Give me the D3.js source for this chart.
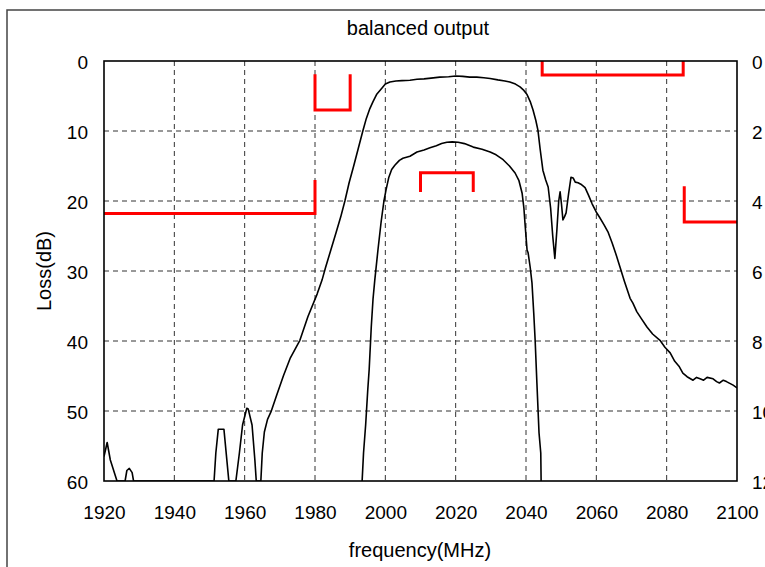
<!DOCTYPE html>
<html>
<head>
<meta charset="utf-8">
<script src="https://cdn.jsdelivr.net/npm/d3@7"></script>
<style>
  html, body { margin: 0; padding: 0; background: #fff; overflow: hidden; }
  svg { display: block; font-family: "Liberation Sans", Arial, sans-serif; }
</style>
</head>
<body>
<svg id="chart" width="765" height="567"></svg>
<script>
/* axis ticks */
const freqTicks = [1920, 1940, 1960, 1980, 2000, 2020, 2040, 2060, 2080, 2100];
const lossTicks = [0, 10, 20, 30, 40, 50, 60];
const rightTicks = [0, 2, 4, 6, 8, 10, 12];

/* wide (balanced) response: [MHz, dB] */
const curveWide = [
  [1920, 56.5], [1920.9, 54.5], [1921.8, 57], [1923.7, 60], [1926, 60], [1926.5, 58.5],
  [1927.2, 58.2], [1928, 58.8], [1928.4, 60], [1951.3, 60], [1951.8, 56], [1952.5, 52.6],
  [1954.1, 52.6], [1955.5, 60], [1957.5, 60], [1958.5, 56], [1959.4, 52], [1960.6, 49.6],
  [1961.0, 49.7], [1962.1, 52], [1962.9, 57], [1963.3, 60], [1964.6, 60], [1965.0, 56],
  [1965.6, 53], [1966.5, 51.2], [1967.5, 50.1], [1969, 47.9], [1971, 45], [1973, 42.4],
  [1975.7, 39.9], [1978, 36.5], [1980.6, 33.3], [1982, 31.3], [1983, 29.5], [1984.5, 27],
  [1986, 24.5], [1987.3, 22.3], [1988.5, 20], [1989.7, 17.4], [1991, 15], [1992.3, 12.5],
  [1993.6, 10], [1994.6, 8.2], [1995.6, 6.8], [1996.5, 5.8], [1997.5, 4.8], [1999, 3.9],
  [2000, 3.3], [2001.3, 3.0], [2003, 2.85], [2004.7, 2.8], [2007, 2.75], [2009, 2.6],
  [2011, 2.55], [2013, 2.45], [2015.5, 2.3], [2018, 2.25], [2020, 2.15], [2022, 2.2],
  [2024, 2.3], [2026, 2.3], [2028, 2.4], [2029.8, 2.5], [2032, 2.7], [2034, 2.85],
  [2035.4, 3.0], [2037, 3.3], [2038.3, 3.7], [2039.4, 4.2], [2040.3, 4.8], [2041.2, 5.8],
  [2042, 7], [2042.8, 8.5], [2043.4, 9.9], [2044, 12.5], [2044.8, 15.6], [2045.6, 17],
  [2046.3, 18], [2047, 21], [2047.6, 25], [2048.2, 28.2], [2048.8, 24], [2049.3, 20],
  [2049.7, 18.7], [2050.1, 20.5], [2050.5, 22.7], [2051.0, 22.2], [2051.4, 21.7], [2052.1, 19],
  [2052.8, 16.6], [2053.4, 16.7], [2054.0, 17.3], [2054.8, 17.4], [2055.6, 17.6], [2056.8, 18.1],
  [2057.8, 19.2], [2058.8, 20.4], [2060, 21.6], [2061, 22.4], [2062.2, 23.4], [2063.3, 24.4],
  [2064.5, 26], [2065.7, 27.8], [2066.7, 29.4], [2068, 31.5], [2069.6, 33.9], [2070.4, 34.6],
  [2071.5, 35.8], [2072.8, 36.8], [2074.4, 38], [2076, 39], [2078.1, 39.9], [2079.5, 40.9],
  [2081, 41.7], [2082.3, 42.9], [2083.5, 43.6], [2084.6, 44.6], [2085.8, 45.1], [2087.5, 45.6],
  [2088.5, 45.2], [2089.5, 45.4], [2090.5, 45.6], [2091.5, 45.2], [2093.2, 45.4], [2094.2, 45.8],
  [2095, 46], [2096.1, 45.6], [2097, 45.8], [2098.9, 46.3], [2100, 46.7]
];

/* narrow response: [MHz, dB] */
const curveNarrow = [
  [1993.4, 60], [1993.8, 56], [1994.4, 52], [1995.0, 47], [1995.4, 44.1], [1996.0, 38],
  [1996.5, 34], [1997, 31.3], [1997.9, 27], [1998.8, 23], [1999.6, 20], [2000.2, 18.4],
  [2001, 16.6], [2001.8, 15.5], [2002.7, 14.9], [2004, 14.2], [2005, 13.9], [2007, 13.6],
  [2009, 13.0], [2011, 12.7], [2012.7, 12.4], [2014.5, 12.1], [2016, 11.8], [2017.5, 11.6],
  [2019, 11.55], [2020.7, 11.6], [2022.5, 11.8], [2025, 12.3], [2027.5, 12.6], [2029.8, 13],
  [2031.5, 13.4], [2033.5, 14.1], [2035.3, 15], [2036.9, 16], [2038, 17.1], [2038.9, 18.9],
  [2039.4, 21], [2039.7, 23.1], [2040.3, 27], [2040.6, 27.4], [2041.2, 29.5], [2041.7, 31.7],
  [2042.2, 36], [2042.6, 39.9], [2043.1, 46], [2043.7, 53.1], [2044.2, 56], [2044.3, 60]
];

/* red spec masks: [MHz, dB] */
const maskLowReject = [[1920, 21.8], [1980, 21.8], [1980, 17]];
const maskLowPass = [[1980, 1.9], [1980, 7], [1990, 7], [1990, 1.9]];
const maskMid = [[2010, 18.7], [2010, 15.95], [2025, 15.95], [2025, 18.7]];
const maskHighPass = [[2044.6, 0], [2044.6, 2], [2084.7, 2], [2084.7, 0]];
const maskHighReject = [[2085, 17.9], [2085, 23], [2100, 23]];

const svg = d3.select("#chart");
const L = 104, R = 737, T = 61, B = 481;
const x = d3.scaleLinear().domain([1920, 2100]).range([L, R]);
const y = d3.scaleLinear().domain([0, 60]).range([T, B]);
const yR = d3.scaleLinear().domain([0, 12]).range([T, B]);

// 바깥 테두리 (잘려 있음)
svg.append("rect").attr("x", 7).attr("y", 10).attr("width", 820).attr("height", 620)
  .attr("fill", "none").attr("stroke", "#444").attr("stroke-width", 1.5);

svg.append("defs").append("clipPath").attr("id", "plot")
  .append("rect").attr("x", L).attr("y", T).attr("width", R - L).attr("height", B - T);

// 격자
const grid = svg.append("g").attr("stroke", "#333").attr("stroke-width", 1).attr("stroke-dasharray", "5,4");
grid.selectAll("line.v").data(freqTicks.slice(1, -1)).join("line")
  .attr("x1", (d) => x(d)).attr("x2", (d) => x(d)).attr("y1", T).attr("y2", B);
grid.selectAll("line.h").data(lossTicks.slice(1, -1)).join("line")
  .attr("x1", L).attr("x2", R).attr("y1", (d) => y(d)).attr("y2", (d) => y(d));

const font = (g, size) => g.attr("font-size", size).attr("font-family", "Liberation Sans, Arial, sans-serif");

const ax = svg.append("g").attr("transform", `translate(0,${B})`)
  .call(d3.axisBottom(x).tickValues(freqTicks).tickSize(0).tickPadding(25).tickFormat(d3.format("d")));
const ay = svg.append("g").attr("transform", `translate(${L},0)`)
  .call(d3.axisLeft(y).tickValues(lossTicks).tickSize(0).tickPadding(16));
const ar = svg.append("g").attr("transform", `translate(${R},0)`)
  .call(d3.axisRight(yR).tickValues(rightTicks).tickSize(0).tickPadding(15));
[ax, ay, ar].forEach((g) => {
  g.select(".domain").remove();
  font(g, 19);
  g.selectAll("text").attr("fill", "#000");
});
ay.selectAll("text").attr("dy", "0.4em");
ar.selectAll("text").attr("dy", "0.4em");

// 곡선
const line = d3.line().x((d) => x(d[0])).y((d) => y(d[1]));
const curves = svg.append("g").attr("clip-path", "url(#plot)").attr("fill", "none");
[curveWide, curveNarrow].forEach((c) =>
  curves.append("path").datum(c).attr("d", line)
    .attr("stroke", "#000").attr("stroke-width", 1.6).attr("stroke-linejoin", "round"));

[maskLowReject, maskLowPass, maskMid, maskHighPass, maskHighReject].forEach((m) =>
  svg.append("path").datum(m).attr("d", line).attr("fill", "none")
    .attr("stroke", "#ff0000").attr("stroke-width", 3));

// 플롯 테두리
svg.append("rect").attr("x", L).attr("y", T).attr("width", R - L).attr("height", B - T)
  .attr("fill", "none").attr("stroke", "#000").attr("stroke-width", 1.6);

// 제목
svg.append("text").attr("x", 418).attr("y", 35).attr("text-anchor", "middle")
  .attr("font-size", 20).text("balanced output");
svg.append("text").attr("x", 420).attr("y", 557).attr("text-anchor", "middle")
  .attr("font-size", 20).text("frequency(MHz)");
svg.append("text").attr("transform", `translate(51,${(T + B) / 2}) rotate(-90)`)
  .attr("text-anchor", "middle").attr("font-size", 20).text("Loss(dB)");
</script>
</body>
</html>
